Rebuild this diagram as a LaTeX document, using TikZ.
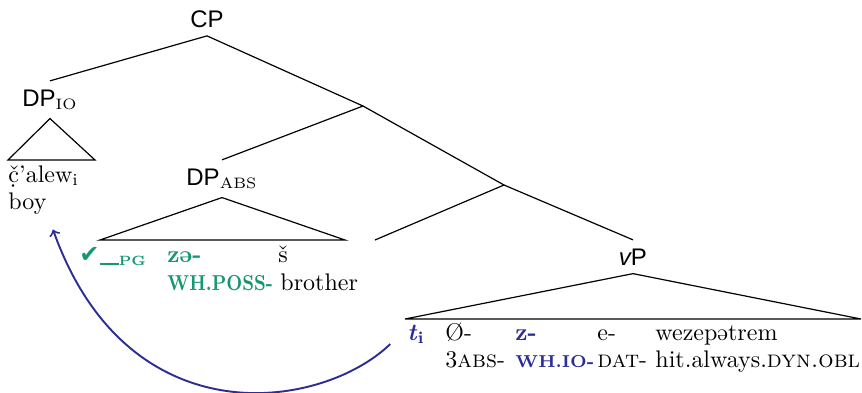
\documentclass[tikz,border=0pt]{standalone}
\usepackage{graphicx}
\usepackage{fontspec}
\newfontfamily\catfont{Liberation Sans}
\newfontfamily\symfont{DejaVu Sans}
\definecolor{possgreen}{RGB}{22,150,115}
\definecolor{ioblue}{RGB}{45,45,150}
\newcommand{\tinysc}[1]{{\fontsize{6.3}{7}\selectfont #1}}
\newcommand{\boldsc}[1]{{\bfseries\fontsize{7.2}{9}\selectfont #1}}

\begin{document}
\begin{tikzpicture}[
  x=0.4167pt, y=-0.4167pt,
  cat/.style={font=\catfont\fontsize{10}{12}\selectfont, inner sep=3.4pt, anchor=base},
  gl/.style={inner sep=0pt, anchor=base west},
  branch/.style={line width=0.5pt},
  move/.style={->, ioblue, line width=0.8pt},
]
  \useasboundingbox (0,0) rectangle (862,392);

  % categories
  \node[cat] (cp)    at (207,27)  {CP};
  \node[cat] (dpio)  at (50,106)  {DP\textsubscript{\rmfamily\tinysc{IO}}};
  \node[cat] (dpabs) at (222,185) {DP\textsubscript{\rmfamily\tinysc{ABS}}};
  \node[cat] (vp)    at (633,265) {{\itshape v}P};

  \coordinate (x1) at (363,106);
  \coordinate (x2) at (504,185);
  \coordinate (vhead) at (375,240);

  \coordinate (ioL) at (8,160);    \coordinate (ioR) at (95,160);
  \coordinate (absL) at (100,240); \coordinate (absR) at (345,240);
  \coordinate (vpL) at (405,319);  \coordinate (vpR) at (861,319);

  % tree
  \draw[branch] (dpio.north) -- (cp.south) -- (x1);
  \draw[branch] (dpabs.north) -- (x1) -- (x2);
  \draw[branch] (vhead) -- (x2) -- (vp.north);

  \draw[branch] (dpio.south) -- (ioL) -- (ioR) -- cycle;
  \draw[branch] (dpabs.south) -- (absL) -- (absR) -- cycle;
  \draw[branch] (vp.south) -- (vpL) -- (vpR) -- cycle;

  % DP_IO
  \node[gl] (calew) at (8,182) {\d{č}'alew\textsubscript{i}};
  \node[gl] (boy)   at (8,209) {boy};

  % DP_ABS
  \node[gl, possgreen] (pg) at (79,262)
    {{\symfont\fontsize{10}{11}\selectfont ✔}\rule[-1.2pt]{8pt}{0.6pt}\raisebox{-1.3pt}{\bfseries\fontsize{5.6}{6}\selectfont PG}};
  \node[gl, possgreen] (poss)   at (167,262) {\textbf{zə-}};
  \node[gl]            (sh)     at (278,262) {š};
  \node[gl, possgreen] (possgl) at (167,290)
    {\scalebox{0.83}[1]{\bfseries\fontsize{9}{11}\selectfont WH.POSS-}};
  \node[gl]            (brother) at (280,290) {brother};

  % vP
  \node[gl, ioblue] (ti)   at (407,340) {\textbf{\itshape t}\textsubscript{\textbf{i}}};
  \node[gl]         (zero) at (445,340) {Ø-};
  \node[gl, ioblue] (zio)  at (515,340) {\textbf{z-}};
  \node[gl]         (dat)  at (597,340) {e-};
  \node[gl]         (verb) at (655,340) {wezepətrem};
  \node[gl]         (absgl)  at (445,367) {3\textsc{abs}-};
  \node[gl, ioblue] (whio)   at (515,367) {\boldsc{WH.IO-}};
  \node[gl]         (datgl)  at (597,367) {\textsc{dat}-};
  \node[gl]         (verbgl) at (655,367) {hit.always.\textsc{dyn.obl}};

  % movement
  \draw[move] ([xshift=-7pt]ti.south west)
    .. controls (322,410) and (128,440) .. ([shift={(2.5pt,-6.3pt)}]boy.south east);
\end{tikzpicture}
\end{document}
